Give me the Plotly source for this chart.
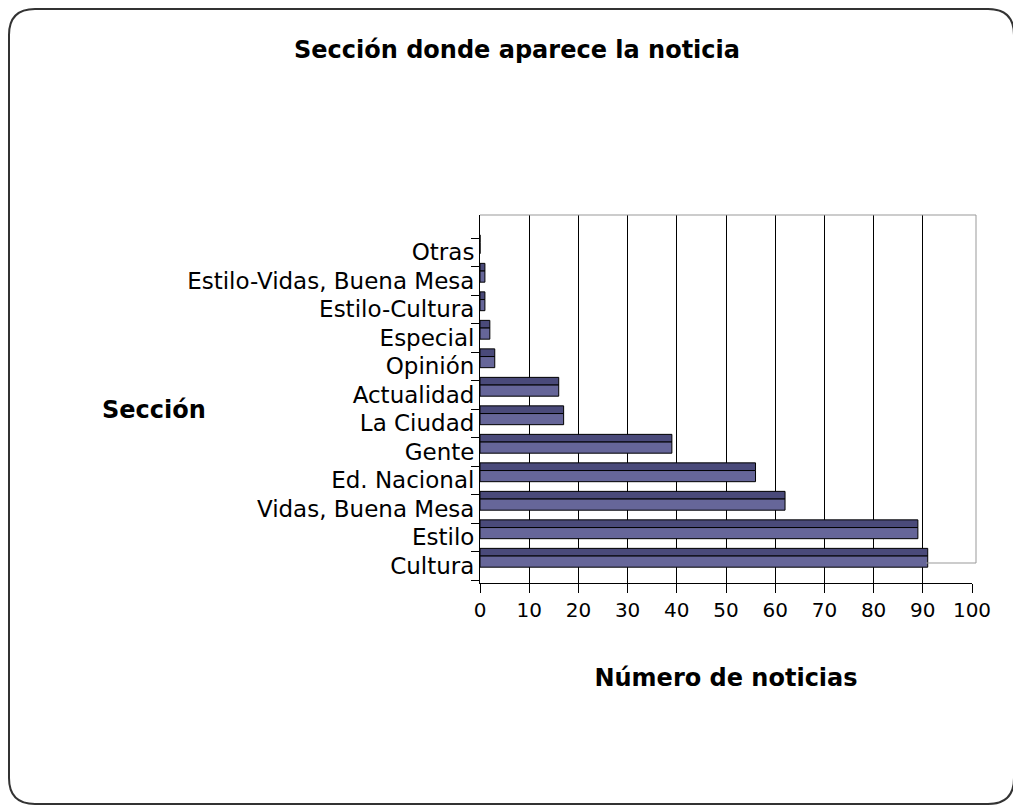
import plotly.graph_objects as go

# Datos (de abajo hacia arriba, como en el gráfico)
secciones = ['Cultura', 'Estilo', 'Vidas, Buena Mesa', 'Ed. Nacional', 'Gente',
             'La Ciudad', 'Actualidad', 'Opinión', 'Especial', 'Estilo-Cultura',
             'Estilo-Vidas, Buena Mesa', 'Otras']
noticias = [91, 89, 62, 56, 39, 17, 16, 3, 2, 1, 1, 0]
ticks_x = list(range(0, 101, 10))

# la página tiene un margen de 8 px: se resta a todas las posiciones
OFF = 8
W, H = 1021 - OFF, 811 - OFF
PLOT_L, PLOT_R, PLOT_T, PLOT_B = 480, 972, 215, 583  # en pixeles de la imagen
SLOT = 28.5
COLOR_FRENTE = '#666699'
COLOR_TAPA = '#4a4a7a'
FUENTE = 'DejaVu Sans'


def px(x):
    return (x - PLOT_L) / (PLOT_R - PLOT_L)


def py(y):
    return (PLOT_B - y) / (PLOT_B - PLOT_T)


fig = go.Figure()

# cara superior (efecto 3D)
fig.add_trace(go.Bar(
    x=noticias, y=secciones, orientation='h',
    width=0.27, offset=0.34,
    marker=dict(color=COLOR_TAPA, line=dict(color='black', width=1)),
    hoverinfo='skip', showlegend=False
))
# cara frontal
fig.add_trace(go.Bar(
    x=noticias, y=secciones, orientation='h',
    width=0.39, offset=-0.05,
    marker=dict(color=COLOR_FRENTE, line=dict(color='black', width=1)),
    name='Número de noticias', showlegend=False
))

y_min = -0.5 - (PLOT_B - 580) / SLOT
y_max = 11.5 + (238 - PLOT_T) / SLOT

# borde redondeado del gráfico
r = 26
x0, x1, y0, y1 = 9, 1014, 9, 804
path = (f"M {px(x0 + r)},{py(y0)} L {px(x1 - r)},{py(y0)} "
        f"Q {px(x1)},{py(y0)} {px(x1)},{py(y0 + r)} "
        f"L {px(x1)},{py(y1 - r)} Q {px(x1)},{py(y1)} {px(x1 - r)},{py(y1)} "
        f"L {px(x0 + r)},{py(y1)} Q {px(x0)},{py(y1)} {px(x0)},{py(y1 - r)} "
        f"L {px(x0)},{py(y0 + r)} Q {px(x0)},{py(y0)} {px(x0 + r)},{py(y0)} Z")

fig.update_layout(
    width=W, height=H,
    margin=dict(l=PLOT_L - OFF, r=W - (PLOT_R - OFF), t=PLOT_T - OFF, b=H - (PLOT_B - OFF)),
    paper_bgcolor='white', plot_bgcolor='white',
    barmode='overlay',
    font=dict(family=FUENTE, size=20, color='black'),
    title=dict(text='<b>Sección donde aparece la noticia</b>',
               x=(517 - OFF) / W, xanchor='center', y=1 - (50 - OFF) / H, yanchor='middle',
               font=dict(family=FUENTE, size=24, color='black')),
    shapes=[
        dict(type='path', xref='paper', yref='paper', path=path,
             line=dict(color='#333333', width=2), layer='below'),
        # pared del fondo (gris)
        dict(type='line', xref='paper', yref='paper', x0=0, x1=px(976), y0=1, y1=1,
             line=dict(color='#999999', width=1)),
        dict(type='line', xref='paper', yref='paper', x0=px(976), x1=px(976), y0=1, y1=py(563),
             line=dict(color='#999999', width=1)),
        dict(type='line', xref='paper', yref='paper', x0=px(926), x1=px(976), y0=py(563), y1=py(563),
             line=dict(color='#999999', width=1)),
    ],
    annotations=[
        dict(text='<b>Sección</b>', xref='paper', yref='paper',
             x=px(100), y=py(410), showarrow=False,
             font=dict(family=FUENTE, size=24, color='black')),
    ]
)

fig.update_xaxes(
    range=[0, 100], tickvals=ticks_x, ticks='outside', ticklen=9, tickcolor='black',
    showline=True, linecolor='black', linewidth=1,
    showgrid=True, gridcolor='black', gridwidth=1, zeroline=False,
    tickfont=dict(family=FUENTE, size=20),
    title=dict(text='<b>Número de noticias</b>', standoff=48,
               font=dict(family=FUENTE, size=24))
)
fig.update_yaxes(
    type='category', range=[y_min, y_max], tickson='boundaries',
    ticks='outside', ticklen=8, tickcolor='black',
    showline=True, linecolor='black', linewidth=1, showgrid=False,
    tickfont=dict(family=FUENTE, size=23)
)

fig.write_html("out.html")
